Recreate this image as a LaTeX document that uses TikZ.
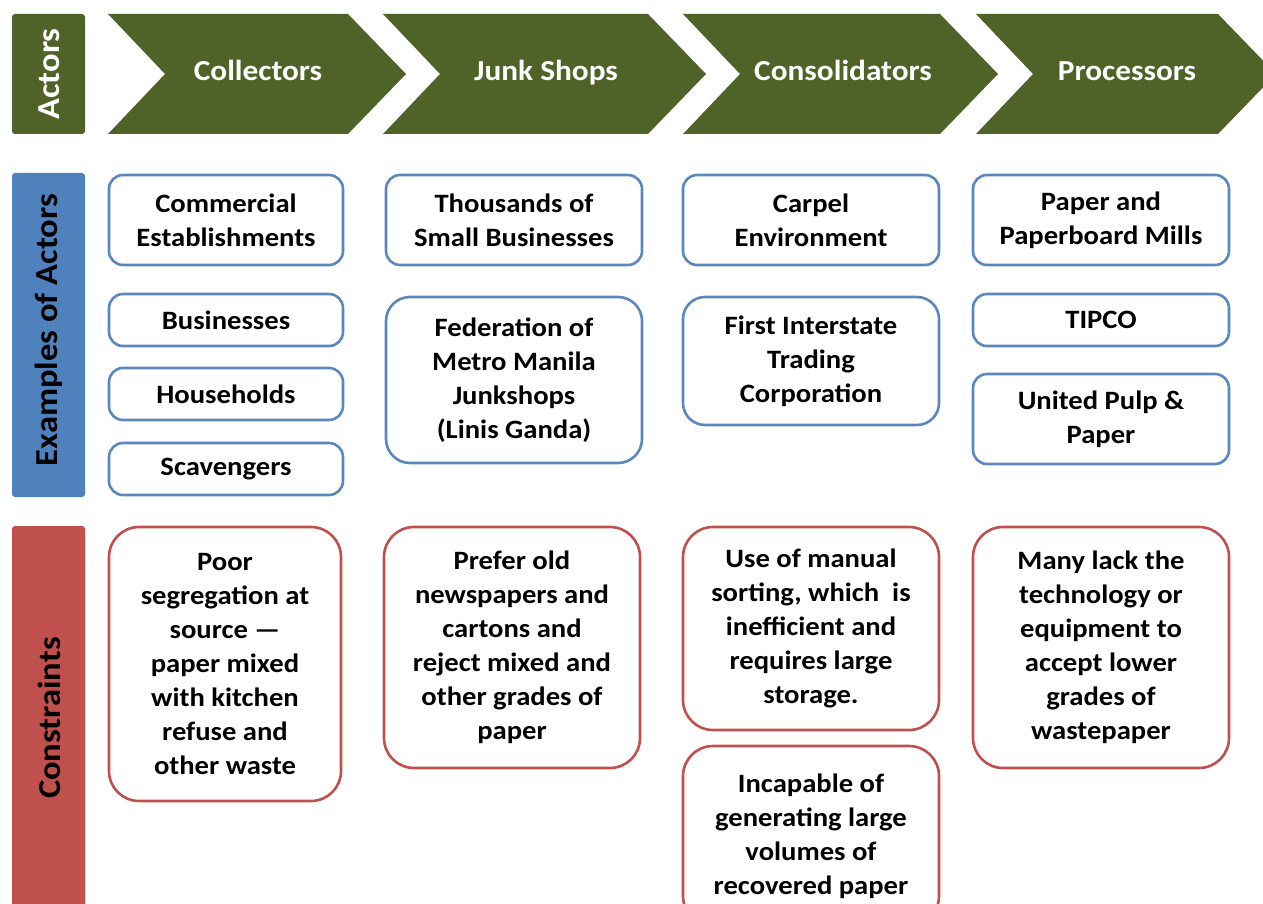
\documentclass[tikz,border=0pt]{standalone}
\usepackage{fontspec}
\setmainfont{Carlito}
\newfontfamily\widefont[FakeStretch=1.08]{Carlito}
\definecolor{hdgreen}{HTML}{4F6228}
\definecolor{hdblue}{HTML}{4F81BD}
\definecolor{hdred}{HTML}{C0504D}
\definecolor{bxblue}{HTML}{5B87BF}
\begin{document}
\begin{tikzpicture}[x=1pt,y=-1pt,
  sidebar/.style={fill=#1, rounded corners=3pt, draw=none},
  sidelabel/.style={text=#1, font=\widefont\fontsize{32}{36}\selectfont\bfseries, rotate=90},
  chevtext/.style={text=white, font=\widefont\fontsize{29}{34}\selectfont\bfseries, anchor=base},
  bbox/.style={draw=bxblue, line width=2.6pt, fill=white, rounded corners=14pt, align=center,
     font=\widefont\fontsize{26.5}{34}\selectfont\bfseries, inner sep=0pt},
  rbox/.style={draw=hdred, line width=2.6pt, fill=white, rounded corners=30pt, align=center,
     font=\widefont\fontsize{26.5}{34}\selectfont\bfseries, inner sep=0pt},
]
\useasboundingbox (0,0) rectangle (1263,904);
\clip (0,0) rectangle (1263,904);
\fill[white] (0,0) rectangle (1263,904);

% side bars
\fill[sidebar=hdgreen] (12,14) rectangle (85,134);
\node[sidelabel=white] (lActors) at (49,74) {Actors};
\fill[sidebar=hdblue] (12,173) rectangle (85,497);
\node[sidelabel=black] (lExamples) at (49,330) {Examples of Actors};
\fill[sidebar=hdred] (12,526) rectangle (85,920);
\node[sidelabel=black] (lConstr) at (49,718) {Constraints};

% chevrons
\def\chev#1#2{%
  \fill[hdgreen] (#1,14) -- (#2,14) -- (#2+58,74) -- (#2,134) -- (#1,134) -- (#1+57,74) -- cycle;}
\chev{108}{348}
\chev{383}{648}
\chev{683}{940}
\chev{976}{1218}
\node[chevtext] (cCollect) at (258,81) {Collectors};
\node[chevtext] (cJunk) at (546,81) {Junk Shops};
\node[chevtext] (cConsol) at (843,81) {Consolidators};
\node[chevtext] (cProc) at (1127,81) {Processors};

% examples of actors
\node[bbox, minimum width=234pt, minimum height=90pt] (e11) at (226,220) {Commercial\\Establishments};
\node[bbox, minimum width=234pt, minimum height=52pt] (e12) at (226,320) {Businesses};
\node[bbox, minimum width=234pt, minimum height=52pt] (e13) at (226,394) {Households};
\node[bbox, minimum width=234pt, minimum height=52pt] (e14) at (226,469) {Scavengers};

\node[bbox, minimum width=256pt, minimum height=90pt] (e21) at (514,220) {Thousands of\\Small Businesses};
\node[bbox, minimum width=256pt, minimum height=166pt, rounded corners=24pt] (e22) at (514,380) {Federation of\\Metro Manila\\Junkshops\\(Linis Ganda)};

\node[bbox, minimum width=256pt, minimum height=90pt] (e31) at (811,220) {Carpel\\Environment};
\node[bbox, minimum width=256pt, minimum height=128pt, rounded corners=22pt] (e32) at (811,361) {First Interstate\\Trading\\Corporation};

\node[bbox, minimum width=256pt, minimum height=90pt] (e41) at (1101,220) {Paper and\\Paperboard Mills};
\node[bbox, minimum width=256pt, minimum height=52pt] (e42) at (1101,320) {TIPCO};
\node[bbox, minimum width=256pt, minimum height=90pt] (e43) at (1101,419) {United Pulp \&\\Paper};

% constraints
\node[rbox, minimum width=232pt, minimum height=274pt] (k1) at (225,664) {Poor\\segregation at\\source —\\paper mixed\\with kitchen\\refuse and\\other waste};
\node[rbox, minimum width=256pt, minimum height=241pt] (k2) at (512,647.5) {Prefer old\\newspapers and\\cartons and\\reject mixed and\\other grades of\\paper};
\node[rbox, minimum width=256pt, minimum height=203pt] (k3) at (811,628.5) {Use of manual\\sorting, which\ \ is\\inefficient and\\requires large\\storage.};
\node[rbox, minimum width=256pt, minimum height=180pt] (k3b) at (811,836) {Incapable of\\generating large\\volumes of\\recovered paper};
\node[rbox, minimum width=256pt, minimum height=241pt] (k4) at (1101,647.5) {Many lack the\\technology or\\equipment to\\accept lower\\grades of\\wastepaper};
\end{tikzpicture}
\end{document}
